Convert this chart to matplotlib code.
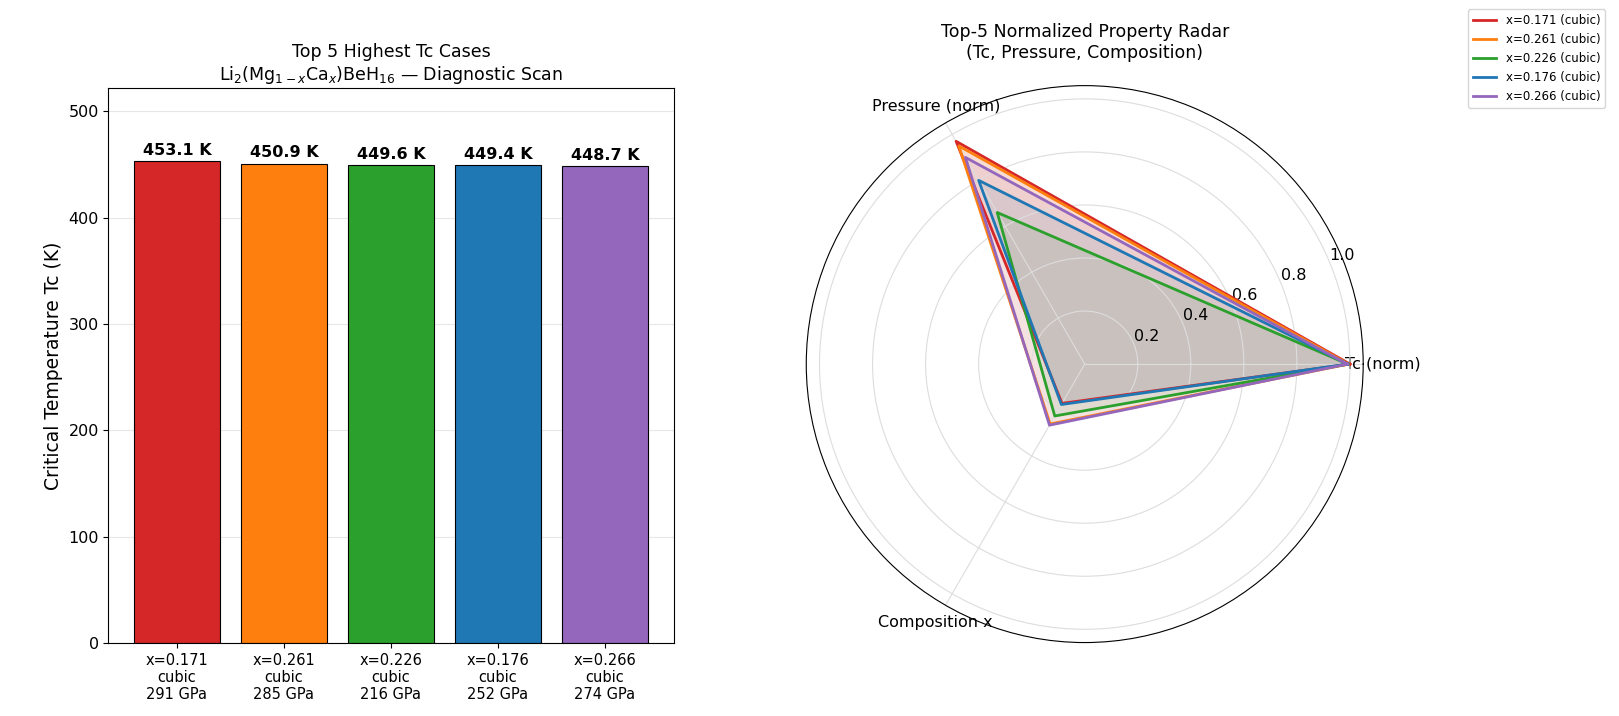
import numpy as np
import matplotlib.pyplot as plt

labels = ['x=0.171', 'x=0.261', 'x=0.226', 'x=0.176', 'x=0.266']
phase = ['cubic'] * 5
pressure = [291, 285, 216, 252, 274]
tc = [453.1, 450.9, 449.6, 449.4, 448.7]
colors = ['#d62728', '#ff7f0e', '#2ca02c', '#1f77b4', '#9467bd']

tc_norm = [1.0, 0.995, 0.992, 0.992, 0.990]
p_norm = [0.97, 0.95, 0.66, 0.80, 0.90]
comp = [0.171, 0.261, 0.226, 0.176, 0.266]
axes_names = ['Tc (norm)', 'Pressure (norm)', 'Composition x']

fig = plt.figure(figsize=(16.19, 7.16), dpi=100)
ax = fig.add_axes([0.067, 0.102, 0.349, 0.775])
xt = [f'{l}\n{ph}\n{p} GPa' for l, ph, p in zip(labels, phase, pressure)]
bars = ax.bar(range(5), tc, color=colors, edgecolor='black', linewidth=0.8)
for b, v in zip(bars, tc):
    ax.text(b.get_x() + b.get_width() / 2, v + 3, f'{v:.1f} K', ha='center', va='bottom',
            fontsize=11.5, fontweight='bold')
ax.set_xticks(range(5))
ax.set_xticklabels(xt, fontsize=10.5)
ax.set_ylim(0, 522)
ax.set_ylabel('Critical Temperature Tc (K)', fontsize=13.5)
ax.set_title('Top 5 Highest Tc Cases\nLi$_2$(Mg$_{1-x}$Ca$_x$)BeH$_{16}$ — Diagnostic Scan', fontsize=12.5)
ax.yaxis.grid(True, alpha=0.3)
ax.set_axisbelow(True)
ax.tick_params(axis='y', labelsize=11.5)

pax = fig.add_axes([0.498, 0.102, 0.344, 0.779], projection='polar')
ang = np.array([0, 2 * np.pi / 3, 4 * np.pi / 3])
for i in range(5):
    vals = [tc_norm[i], p_norm[i], comp[i]]
    a = np.append(ang, ang[0])
    v = vals + [vals[0]]
    pax.plot(a, v, color=colors[i], linewidth=2, label=f'{labels[i]} ({phase[i]})')
    pax.fill(a, v, color=colors[i], alpha=0.1)
pax.set_xticks(ang)
pax.set_xticklabels(axes_names, fontsize=11.5)
pax.set_ylim(0, 1.05)
pax.set_yticks([0.2, 0.4, 0.6, 0.8, 1.0])
pax.set_yticklabels(['0.2', '0.4', '0.6', '0.8', '1.0'], fontsize=11.5)
pax.grid(True, color='#dddddd')
pax.set_title('Top-5 Normalized Property Radar\n(Tc, Pressure, Composition)', fontsize=12.5, pad=20)
fig.legend(*pax.get_legend_handles_labels(), loc='upper right', bbox_to_anchor=(0.995, 0.995), fontsize=8.5)

fig.savefig('out.png', dpi=100)
